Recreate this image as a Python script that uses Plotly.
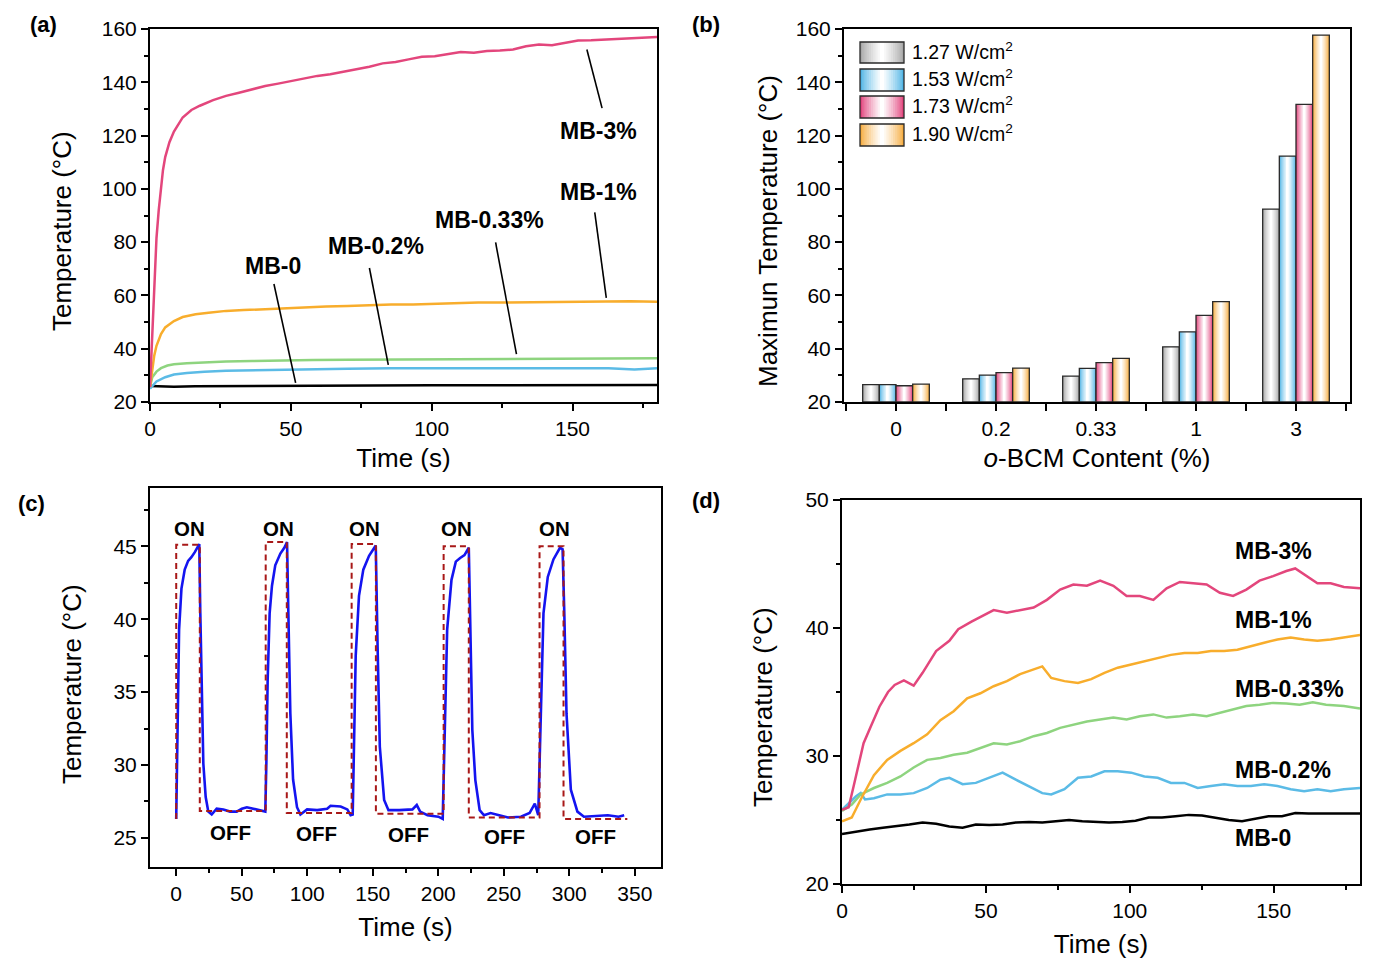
import plotly.graph_objects as go

W, H = 1375, 963
FONT = "Arial, Liberation Sans, sans-serif"

# ---------------- (a) heating curves ----------------
t_a_3 = [0, 0.8, 1.5, 2.3, 3.1, 3.9, 4.6, 5.4, 6.9, 8.5, 11.6, 14.7, 17.7, 22.4, 27, 31.6, 36.3, 40.9, 45.5,
         50.2, 54.8, 59.4, 64, 68.7, 73.3, 77.9, 82.6, 87.2, 91.8, 96.5, 101.1, 105.7, 110.3, 115, 119.6,
         124.2, 128.9, 133.5, 138.1, 142.7, 147.4, 152, 156.6, 161.3, 165.9, 170.5, 175.2, 180]
T_a_3 = [25.6, 46, 64.7, 81.5, 92, 100.7, 107, 111.9, 117.5, 121.5, 126.8, 129.6, 131.2, 133.3, 134.9, 136.1,
         137.4, 138.6, 139.5, 140.5, 141.4, 142.4, 143.0, 143.9, 144.8, 145.8, 147.1, 147.6, 148.6, 149.6,
         149.8, 150.7, 151.4, 151.1, 151.7, 151.9, 152.3, 153.5, 154.2, 153.9, 154.8, 155.7, 155.8, 156.0,
         156.3, 156.4, 156.6, 157.0]
t_a_1 = [0, 0.8, 1.5, 2.3, 3.9, 5.4, 8.5, 11.6, 16.2, 20.8, 27, 33.2, 39.4, 47.1, 54.8, 62.5, 70.2, 77.9, 85.6,
         93.4, 101.1, 108.8, 116.5, 124.2, 131.9, 139.7, 147.4, 155.1, 162.8, 170.5, 180]
T_a_1 = [25.6, 32.4, 37.4, 41.1, 45.5, 48.0, 50.4, 51.9, 52.9, 53.5, 54.2, 54.5, 54.8, 55.0, 55.4, 55.8, 56.0,
         56.3, 56.6, 56.6, 56.9, 57.0, 57.3, 57.3, 57.4, 57.3, 57.4, 57.5, 57.8, 57.8, 57.6]
t_a_033 = [0, 0.8, 2.3, 3.9, 6.2, 8.5, 13.1, 19.3, 27, 36.3, 47.1, 57.9, 70.2, 85.6, 101.1, 116.5, 131.9,
           147.4, 162.8, 180]
T_a_033 = [25.6, 29.3, 31.4, 32.7, 33.7, 34.2, 34.5, 34.9, 35.2, 35.4, 35.7, 35.8, 35.9, 36.0, 36.1, 36.1,
           36.3, 36.3, 36.4, 36.4]
t_a_02 = [0, 2.3, 5.4, 8.5, 13.1, 19.3, 27, 36.3, 47.1, 57.9, 70.2, 85.6, 101.1, 116.5, 131.9, 147.4, 162.8,
          172, 180]
T_a_02 = [25.0, 27.7, 29.3, 30.3, 30.9, 31.4, 31.7, 31.9, 32.2, 32.4, 32.5, 32.7, 32.7, 32.8, 32.7, 32.8, 32.7,
          32.2, 32.7]
t_a_0 = [0, 2, 8.5, 16, 30, 50, 75, 100, 125, 150, 165, 180]
T_a_0 = [26.0, 25.9, 25.7, 25.9, 26.0, 26.1, 26.2, 26.3, 26.3, 26.3, 26.4, 26.4]

# ---------------- (b) maximum temperature bars ----------------
contents = ["0", "0.2", "0.33", "1", "3"]
powers = ["1.27", "1.53", "1.73", "1.90"]
max_127 = [26.5, 28.7, 29.7, 40.7, 92.4]
max_153 = [26.5, 30.1, 32.6, 46.3, 112.3]
max_173 = [26.1, 31.0, 34.8, 52.5, 131.7]
max_190 = [26.7, 32.7, 36.4, 57.7, 157.7]

# ---------------- (c) ON/OFF cycling ----------------
t_c = [0, 0.6, 1.4, 2.2, 4.0, 6.5, 9.1, 11.6, 14.2, 16.0, 17.6, 18.4, 19.4, 20.7, 22.5, 24.5, 27.1, 30.9,
       36.0, 41.1, 46.2, 50.1, 53.9, 59.0, 66.7, 68.0,
       68.8, 69.8, 71.3, 73.1, 75.6, 79.5, 82.5, 84.6, 85.6, 87.1, 89.2, 92.2, 94.8, 99.9, 107.6, 115.2,
       117.8, 125.5, 130.6, 133.1, 134.7,
       135.7, 137.0, 139.5, 142.8, 147.2, 151.0, 152.3, 153.7, 155.4, 158.7, 162.0, 170.3, 180.3, 183.6,
       186.2, 191.8, 200.1, 203.4,
       205.1, 206.8, 210.1, 213.4, 216.7, 220.0, 223.3, 224.3, 226.0, 228.3, 231.6, 234.9, 239.9, 246.5,
       253.2, 263.1, 269.7, 273.7, 276.3,
       278.3, 280.3, 283.6, 287.9, 292.9, 294.9, 296.2, 297.9, 301.2, 306.2, 311.2, 319.4, 329.4, 337.6, 341.9]
T_c = [26.3, 30.1, 35.85, 39.3, 42.1, 43.4, 44.0, 44.25, 44.6, 44.9, 45.15, 40.4, 34.7, 30.1, 27.8, 26.8,
       26.6, 27.0, 26.95, 26.8, 26.8, 27.0, 27.1, 27.0, 26.8, 26.8,
       30.1, 35.85, 40.4, 42.3, 43.7, 44.5, 44.9, 45.3, 40.4, 33.55, 29.0, 27.1, 26.6, 26.95, 26.9, 27.0,
       27.2, 27.15, 26.95, 26.55, 26.6,
       32.4, 37.5, 41.6, 43.4, 44.35, 44.9, 45.05, 38.1, 31.25, 27.6, 26.9, 26.9, 26.95, 27.25, 26.8, 26.55,
       26.45, 26.3,
       33.5, 39.3, 42.7, 43.95, 44.2, 44.4, 44.9, 40.4, 32.4, 28.96, 26.9, 26.55, 26.7, 26.55, 26.4, 26.45,
       26.7, 27.35, 26.55,
       33.5, 40.4, 42.9, 44.1, 44.9, 44.8, 40.4, 33.5, 28.3, 26.8, 26.45, 26.5, 26.55, 26.45, 26.55]
on_start = [0, 68.3, 133.9, 204.1, 277.3]
on_end = [18.0, 84.4, 152.4, 223.3, 295.6]
on_top = [45.1, 45.3, 45.15, 45.0, 45.0]
off_level = [26.85, 26.7, 26.65, 26.4, 26.3]
start_level = 26.3
off_end = 344.3

# ---------------- (d) heating curves (low power) ----------------
t_d_3 = [0, 2.3, 4.0, 7.5, 10, 13, 16, 18.3, 21.5, 24.9, 28, 32.7, 37.3, 40.4, 45, 49.6, 52.7, 57.3, 61.9,
         66.6, 71.2, 75.8, 80.4, 85.1, 89.7, 94.3, 98.9, 103.5, 108.2, 112.8, 117.4, 122, 126.7, 131.3, 135.9,
         140.5, 145.1, 149.8, 154.4, 157.5, 160.6, 165.2, 169.8, 174.4, 180]
T_d_3 = [25.8, 26.0, 27.6, 31.0, 32.3, 33.85, 35.0, 35.55, 35.9, 35.5, 36.5, 38.2, 39.0, 39.9, 40.5, 41.05,
         41.4, 41.2, 41.4, 41.6, 42.2, 43.0, 43.4, 43.3, 43.7, 43.3, 42.5, 42.5, 42.2, 43.1, 43.6, 43.5, 43.4,
         42.75, 42.5, 43.0, 43.7, 44.05, 44.45, 44.65, 44.2, 43.5, 43.5, 43.2, 43.1]
t_d_1 = [0, 3.4, 6.5, 11.1, 15.7, 20.3, 24.9, 29.6, 34.2, 38.8, 43.5, 48.1, 52.7, 57.3, 61.9, 66.6, 69.6, 72.7,
         77.3, 82, 86.6, 91.2, 95.8, 100.5, 105.1, 109.7, 114.3, 119, 123.6, 128.2, 132.8, 137.4, 142.1, 146.7,
         151.3, 155.9, 160.6, 165.2, 169.8, 174.4, 180]
T_d_1 = [24.9, 25.2, 26.6, 28.5, 29.7, 30.4, 31.0, 31.7, 32.8, 33.5, 34.5, 34.9, 35.45, 35.85, 36.4, 36.75,
         37.0, 36.1, 35.85, 35.7, 36.0, 36.5, 36.9, 37.15, 37.4, 37.7, 37.9, 38.05, 38.05, 38.2, 38.2, 38.3,
         38.6, 38.85, 39.1, 39.25, 39.1, 39.0, 39.1, 39.25, 39.45]
t_d_033 = [0, 3.4, 6.5, 11.1, 15.7, 20.3, 24.9, 29.6, 34.2, 38.8, 43.5, 48.1, 52.7, 57.3, 61.9, 66.6, 71.2,
           75.8, 80.4, 85.1, 89.7, 94.3, 98.9, 103.5, 108.2, 112.8, 117.4, 122, 126.7, 131.3, 135.9, 140.5,
           145.1, 149.8, 154.4, 159, 163.6, 168.2, 174.4, 180]
T_d_033 = [25.7, 26.2, 27.0, 27.5, 27.9, 28.4, 29.1, 29.7, 29.85, 30.1, 30.25, 30.6, 31.0, 30.9, 31.15,
           31.55, 31.8, 32.2, 32.45, 32.7, 32.85, 33.0, 32.85, 33.1, 33.25, 33.0, 33.1, 33.25, 33.1, 33.35,
           33.6, 33.9, 34.0, 34.15, 34.1, 34.0, 34.2, 34.0, 33.9, 33.7]
t_d_02 = [0, 1.8, 4.9, 6.5, 8, 11.1, 15.7, 20.3, 24.9, 29.6, 34.2, 37.3, 41.9, 46.5, 51.2, 55.8, 60.4, 65,
          69.6, 72.7, 77.3, 82, 86.6, 91.2, 95.8, 100.5, 105.1, 109.7, 114.3, 119, 123.6, 128.2, 132.8, 137.4,
          142.1, 146.7, 151.3, 155.9, 160.6, 165.2, 169.8, 174.4, 180]
T_d_02 = [25.8, 26.2, 26.85, 27.1, 26.6, 26.7, 27.0, 27.0, 27.1, 27.5, 28.15, 28.3, 27.8, 27.9, 28.3, 28.7,
          28.15, 27.65, 27.1, 27.0, 27.4, 28.3, 28.4, 28.8, 28.8, 28.7, 28.4, 28.3, 27.9, 27.9, 27.5, 27.65,
          27.8, 27.65, 27.65, 27.8, 27.65, 27.4, 27.25, 27.4, 27.25, 27.4, 27.5]
t_d_0 = [0, 4.9, 9.6, 14.2, 18.8, 23.4, 28, 32.7, 37.3, 41.9, 46.5, 51.2, 55.8, 60.4, 65, 69.6, 74.3, 78.9,
         83.5, 88.1, 92.8, 97.4, 102, 106.6, 111.2, 115.9, 120.5, 125.1, 129.7, 134.4, 139, 143.6, 148.2,
         152.9, 157.5, 162.1, 166.7, 171.3, 180]
T_d_0 = [23.9, 24.05, 24.25, 24.4, 24.5, 24.65, 24.8, 24.7, 24.5, 24.4, 24.65, 24.6, 24.65, 24.8, 24.85,
         24.8, 24.9, 25.0, 24.9, 24.85, 24.8, 24.85, 24.95, 25.2, 25.2, 25.3, 25.4, 25.35, 25.15, 25.0, 24.9,
         25.1, 25.3, 25.3, 25.55, 25.5, 25.5, 25.5, 25.5]

# ---------------- styling ----------------
PINK, ORANGE, GREEN, LBLUE, BLACK = "#e3467c", "#f8ad2c", "#8ed47f", "#5bbbe6", "#000000"
BAR_COLORS = ["#a8a8a8", "#52b5e5", "#e2467e", "#f6ae44"]
TICK_SIZE = 21
TITLE_SIZE = 26
LABEL_SIZE = 23


def px_x(p):
    return p / W


def px_y(p):
    return 1 - p / H


def mix(hexc, f):
    r, g, b = int(hexc[1:3], 16), int(hexc[3:5], 16), int(hexc[5:7], 16)
    r = round(r + (255 - r) * f)
    g = round(g + (255 - g) * f)
    b = round(b + (255 - b) * f)
    return f"rgb({r},{g},{b})"


fig = go.Figure()

# (a)
for tt, TT, col in [(t_a_0, T_a_0, BLACK), (t_a_02, T_a_02, LBLUE), (t_a_033, T_a_033, GREEN),
                    (t_a_1, T_a_1, ORANGE), (t_a_3, T_a_3, PINK)]:
    fig.add_trace(go.Scatter(x=tt, y=TT, mode="lines", line=dict(color=col, width=2.5),
                             xaxis="x", yaxis="y", showlegend=False))

# (b) gradient bars
BW = 1 / 6
NL = 10
xpos = list(range(len(contents)))
for s, (vals, col) in enumerate(zip([max_127, max_153, max_173, max_190], BAR_COLORS)):
    center = (s - 1.5) * BW
    for k in range(NL):
        w = BW * (1 - k / NL)
        f = (k / (NL - 1)) ** 0.8
        fig.add_trace(go.Bar(x=xpos, y=[v - 20 for v in vals], base=20, width=w, offset=center - w / 2,
                             marker=dict(color=mix(col, f), line=dict(width=0)),
                             xaxis="x2", yaxis="y2", showlegend=False, hoverinfo="skip"))
    fig.add_trace(go.Bar(x=xpos, y=[v - 20 for v in vals], base=20, width=BW, offset=center - BW / 2,
                         marker=dict(color="rgba(0,0,0,0)", line=dict(color="#2a2a2a", width=1.3)),
                         xaxis="x2", yaxis="y2", showlegend=False, name=powers[s] + " W/cm²"))

# (c)
sq_x, sq_y = [on_start[0]], [start_level]
for i in range(len(on_start)):
    prev = start_level if i == 0 else off_level[i - 1]
    sq_x += [on_start[i], on_start[i], on_end[i], on_end[i]]
    sq_y += [prev, on_top[i], on_top[i], off_level[i]]
sq_x.append(off_end)
sq_y.append(off_level[-1])
fig.add_trace(go.Scatter(x=t_c, y=T_c, mode="lines", line=dict(color="#1414f0", width=2.6),
                         xaxis="x3", yaxis="y3", showlegend=False))
fig.add_trace(go.Scatter(x=sq_x, y=sq_y, mode="lines", line=dict(color="#a81818", width=2, dash="6px,4px"),
                         xaxis="x3", yaxis="y3", showlegend=False))

# (d)
for tt, TT, col in [(t_d_0, T_d_0, BLACK), (t_d_02, T_d_02, LBLUE), (t_d_033, T_d_033, GREEN),
                    (t_d_1, T_d_1, ORANGE), (t_d_3, T_d_3, PINK)]:
    fig.add_trace(go.Scatter(x=tt, y=TT, mode="lines", line=dict(color=col, width=2.5),
                             xaxis="x4", yaxis="y4", showlegend=False))


def axis(**kw):
    base = dict(showline=True, linecolor="black", linewidth=2, mirror=True, ticks="outside", ticklen=7,
                tickwidth=2, tickcolor="black", showgrid=False, zeroline=False,
                tickfont=dict(size=TICK_SIZE, color="black", family=FONT),
                title_font=dict(size=TITLE_SIZE, color="black", family=FONT))
    base.update(kw)
    return base


def minor(dt):
    return dict(ticks="outside", ticklen=4, tickwidth=2, tickcolor="black", dtick=dt, showgrid=False)


fig.update_layout(
    width=W, height=H, margin=dict(l=0, r=0, t=0, b=0), template="none",
    paper_bgcolor="white", plot_bgcolor="white", font=dict(family=FONT, color="black"),
    barmode="overlay", showlegend=False,
    xaxis=axis(domain=[px_x(150), px_x(657)], anchor="y", range=[0, 180], tickvals=[0, 50, 100, 150],
               minor=minor(25), title=dict(text="Time (s)", standoff=10)),
    yaxis=axis(domain=[px_y(402), px_y(29)], anchor="x", range=[20, 160], dtick=20, tick0=20,
               minor=minor(10)),
    xaxis2=axis(domain=[px_x(844), px_x(1350)], anchor="y2", range=[-0.52, 4.54], tickmode="array",
                tickvals=xpos, ticktext=contents,
                minor=dict(ticks="outside", ticklen=7, tickwidth=2, tickcolor="black", tickmode="array",
                           tickvals=[-0.5, 0.5, 1.5, 2.5, 3.5, 4.5], showgrid=False),
                title=dict(text="<i>o</i>-BCM Content (%)", standoff=10)),
    yaxis2=axis(domain=[px_y(402), px_y(29)], anchor="x2", range=[20, 160], dtick=20, tick0=20,
                minor=minor(10)),
    xaxis3=axis(domain=[px_x(150), px_x(661)], anchor="y3", range=[-20, 370], dtick=50, tick0=0,
                minor=minor(25), title=dict(text="Time (s)", standoff=14)),
    yaxis3=axis(domain=[px_y(867), px_y(488)], anchor="x3", range=[23, 49], tickvals=[25, 30, 35, 40, 45],
                minor=dict(ticks="outside", ticklen=4, tickwidth=2, tickcolor="black", tick0=0, dtick=2.5,
                           showgrid=False)),
    xaxis4=axis(domain=[px_x(842), px_x(1360)], anchor="y4", range=[0, 180], tickvals=[0, 50, 100, 150],
                minor=minor(25), title=dict(text="Time (s)", standoff=14)),
    yaxis4=axis(domain=[px_y(884), px_y(500)], anchor="x4", range=[20, 50], dtick=10, tick0=20,
                minor=minor(5)),
)

ann = []
# panel labels
for lab, x, y in [("(a)", 43, 25), ("(b)", 706, 25), ("(c)", 31, 503), ("(d)", 706, 500)]:
    ann.append(dict(text=f"<b>{lab}</b>", x=px_x(x), y=px_y(y), xref="paper", yref="paper", showarrow=False,
                    xanchor="center", yanchor="middle", font=dict(size=22, color="black")))

# y-axis titles (placed as rotated text)
for txt, x, y in [("Temperature (°C)", 62, 231), ("Maximun Temperature (°C)", 768, 231),
                  ("Temperature (°C)", 72, 684), ("Temperature (°C)", 763, 707)]:
    ann.append(dict(text=txt, x=px_x(x), y=px_y(y), xref="paper", yref="paper", showarrow=False,
                    textangle=-90, xanchor="center", yanchor="middle",
                    font=dict(size=TITLE_SIZE, color="black")))

# (a) curve labels and callout lines
a_labels = [("MB-0", 43.7, 70.9), ("MB-0.2%", 80.2, 78.4), ("MB-0.33%", 120.4, 88.3),
            ("MB-1%", 159.4, 98.9), ("MB-3%", 159.4, 121.9)]
for txt, x, y in a_labels:
    ann.append(dict(text=f"<b>{txt}</b>", x=x, y=y, xref="x", yref="y", showarrow=False,
                    font=dict(size=LABEL_SIZE, color="black")))
a_callouts = [(44.0, 64.3, 51.7, 27.2), (77.9, 70.3, 84.6, 33.9), (122.7, 79.9, 130.1, 38.0),
              (157.9, 91.2, 162.0, 59.1), (155.1, 152.3, 160.5, 130.3)]
shapes = []
for x0, y0, x1, y1 in a_callouts:
    shapes.append(dict(type="line", xref="x", yref="y", x0=x0, y0=y0, x1=x1, y1=y1,
                       line=dict(color="black", width=1.6)))

# (b) manual legend with gradient swatches
rows = [(42, 63), (69, 91), (96, 118), (124, 146)]
lx0, lx1 = 860, 904
for s, ((ry0, ry1), col) in enumerate(zip(rows, BAR_COLORS)):
    cx = (lx0 + lx1) / 2
    hw = (lx1 - lx0) / 2
    for k in range(NL):
        w = hw * (1 - k / NL)
        f = (k / (NL - 1)) ** 0.8
        shapes.append(dict(type="rect", xref="paper", yref="paper", x0=px_x(cx - w), x1=px_x(cx + w),
                           y0=px_y(ry1), y1=px_y(ry0), fillcolor=mix(col, f), line=dict(width=0)))
    shapes.append(dict(type="rect", xref="paper", yref="paper", x0=px_x(lx0), x1=px_x(lx1),
                       y0=px_y(ry1), y1=px_y(ry0), fillcolor="rgba(0,0,0,0)",
                       line=dict(color="#2a2a2a", width=1.3)))
    ann.append(dict(text=f"{powers[s]} W/cm<sup>2</sup>", x=px_x(910), y=px_y((ry0 + ry1) / 2 - 2),
                    xref="paper", yref="paper", xanchor="left", yanchor="middle", showarrow=False,
                    font=dict(size=19.5, color="black")))

# (c) ON / OFF labels
on_lab_x = [10.3, 77.9, 143.8, 213.7, 288.9]
off_lab_x = [41.1, 107.4, 177.6, 250.8, 320.1]
off_lab_y = [25.4, 25.3, 25.2, 25.1, 25.1]
for x in on_lab_x:
    ann.append(dict(text="<b>ON</b>", x=x, y=46.2, xref="x3", yref="y3", showarrow=False,
                    font=dict(size=20.5, color="black")))
for x, y in zip(off_lab_x, off_lab_y):
    ann.append(dict(text="<b>OFF</b>", x=x, y=y, xref="x3", yref="y3", showarrow=False,
                    font=dict(size=20.5, color="black")))

# (d) curve labels
d_labels = [("MB-3%", 46.0), ("MB-1%", 40.6), ("MB-0.33%", 35.2), ("MB-0.2%", 28.9), ("MB-0", 23.6)]
for txt, y in d_labels:
    ann.append(dict(text=f"<b>{txt}</b>", x=136, y=y, xref="x4", yref="y4", xanchor="left", showarrow=False,
                    font=dict(size=LABEL_SIZE, color="black")))

fig.update_layout(annotations=ann, shapes=shapes)
fig.write_html("out.html")
